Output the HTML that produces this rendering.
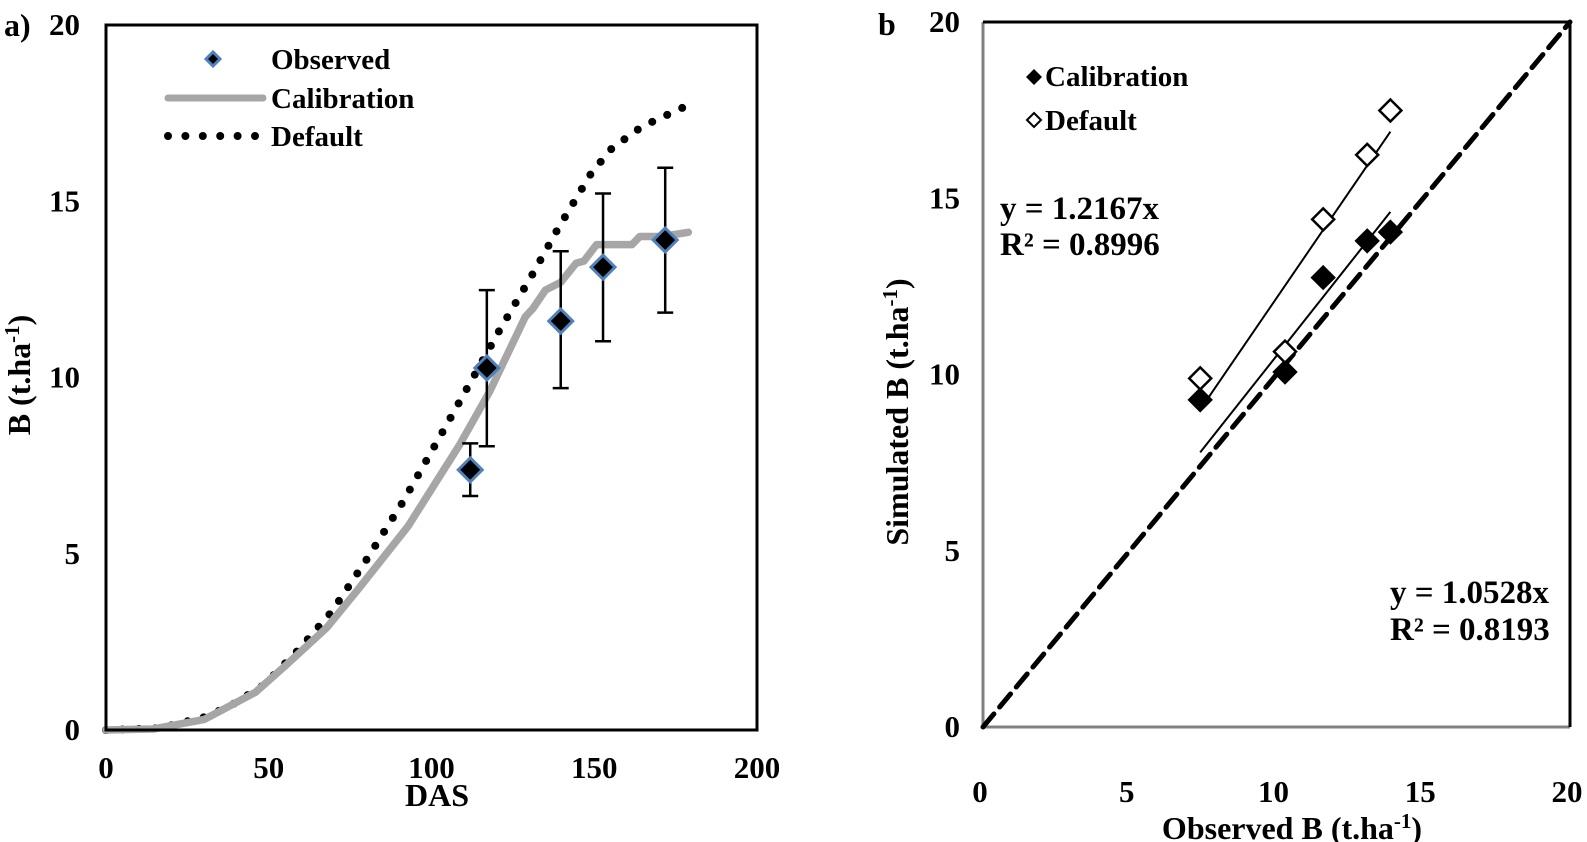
<!DOCTYPE html>
<html><head><meta charset="utf-8"><style>
html,body{margin:0;padding:0;background:#fff}
svg{display:block;font-family:"Liberation Serif",serif;font-weight:bold}
</style></head><body>
<svg id="chart" width="1587" height="842" viewBox="0 0 1587 842" xmlns="http://www.w3.org/2000/svg">
<g id="pa"></g>
<g id="pb"></g>
</svg>
<script>
// Panel a data
const obsDAS = [111.9, 117, 139.7, 152.7, 171.8];
const obsB = [7.38, 10.27, 11.6, 13.13, 13.9];
const obsHi = [8.13, 12.48, 13.58, 15.22, 15.95];
const obsLo = [6.64, 8.05, 9.7, 11.03, 11.84];
const calDAS = [0, 14.6, 30.2, 45.9, 55.2, 67.8, 77.2, 92.8, 108.5, 117.8, 128.8, 131.1, 135, 139.7, 144.4, 146.8, 150.7, 161.6, 164, 170.9, 178.9];
const calB = [0, 0.03, 0.3, 1.07, 1.83, 2.9, 3.96, 5.78, 8.07, 9.59, 11.72, 11.95, 12.48, 12.7, 13.24, 13.3, 13.77, 13.77, 14.0, 14.0, 14.12];
const defDAS = [0, 16.1, 20.8, 31, 39.6, 48.7, 59.2, 69.3, 80.3, 91.2, 103.8, 113.1, 120.9, 131.1, 138.9, 149.1, 155.4, 164.7, 177.3];
const defB = [0, 0.05, 0.15, 0.38, 0.76, 1.29, 2.28, 3.35, 4.87, 6.47, 8.52, 10.05, 11.34, 12.94, 14.23, 15.8, 16.5, 17.12, 17.66];
const aXTicks = [0, 50, 100, 150, 200];
const aYTicks = [0, 5, 10, 15, 20];
// Panel b data
const bObserved = [7.4, 10.29, 11.59, 13.09, 13.88];
const bCalSim = [9.28, 10.07, 12.75, 13.79, 14.04];
const bDefSim = [9.89, 10.65, 14.4, 16.23, 17.49];
const bCalSlope = [1.0528];
const bDefSlope = [1.2167];
const bXTicks = [0, 5, 10, 15, 20];
const bYTicks = [0, 5, 10, 15, 20];

const NS = "http://www.w3.org/2000/svg";
function mk(parent, tag, attrs, text) {
  const e = document.createElementNS(NS, tag);
  for (const k in attrs) e.setAttribute(k, attrs[k]);
  if (text !== undefined) e.textContent = text;
  parent.appendChild(e);
  return e;
}
function diamond(cx, cy, r) { return `M${cx},${cy-r}L${cx+r},${cy}L${cx},${cy+r}L${cx-r},${cy}Z`; }

// ---------- Panel a ----------
const pa = document.getElementById('pa');
const ax = v => 106 + v * (757 - 106) / 200;
const ay = v => 730 - v * (730 - 25) / 20;

let t;
aYTicks.forEach(v => {
  t = mk(pa, 'text', {x: 80, y: ay(v) + 10, 'text-anchor': 'end', 'font-size': 31}, v);
  
  
});
aXTicks.forEach(v => {
  t = mk(pa, 'text', {x: ax(v), y: 778, 'text-anchor': 'middle', 'font-size': 31}, v);
  
  
});
t = mk(pa, 'text', {x: 437, y: 806, 'text-anchor': 'middle', 'font-size': 32}, 'DAS');


t = mk(pa, 'text', {transform: 'translate(30,375) rotate(-90)', 'text-anchor': 'middle', 'font-size': 32});


t.innerHTML = 'B (t.ha<tspan dy="-11" font-size="21">-1</tspan><tspan dy="11">)</tspan>';
t = mk(pa, 'text', {x: 4, y: 36, 'font-size': 32}, 'a)');



// default dotted line
let d = defDAS.map((v, i) => (i ? 'L' : 'M') + ax(v) + ',' + ay(defB[i])).join('');
t = mk(pa, 'path', {d, fill: 'none', stroke: '#000', 'stroke-width': 8, 'stroke-linecap': 'round', 'stroke-dasharray': '0 16.5'});


// calibration line
d = calDAS.map((v, i) => (i ? 'L' : 'M') + ax(v) + ',' + ay(calB[i])).join('');
t = mk(pa, 'path', {d, fill: 'none', stroke: '#a6a6a6', 'stroke-width': 7.5, 'stroke-linejoin': 'round', 'stroke-linecap': 'round'});


// error bars + observed
obsDAS.forEach((v, i) => {
  const x = ax(v);
  t = mk(pa, 'path', {d: `M${x},${ay(obsHi[i])}V${ay(obsLo[i])}M${x-8},${ay(obsHi[i])}H${x+8}M${x-8},${ay(obsLo[i])}H${x+8}`, stroke: '#000', 'stroke-width': 2.5, fill: 'none'});
  
  
});
obsDAS.forEach((v, i) => {
  t = mk(pa, 'path', {d: diamond(ax(v), ay(obsB[i]), 12), fill: '#000', stroke: '#4f81bd', 'stroke-width': 3});
  
  
});
// frame
t = mk(pa, 'rect', {x: 106, y: 25, width: 651, height: 705, fill: 'none', stroke: '#000', 'stroke-width': 3});


// legend
t = mk(pa, 'path', {d: diamond(213, 59, 7), fill: '#000', stroke: '#4f81bd', 'stroke-width': 3});


t = mk(pa, 'text', {x: 271, y: 69, 'font-size': 29}, 'Observed');


t = mk(pa, 'line', {x1: 168, y1: 98, x2: 263, y2: 98, stroke: '#a6a6a6', 'stroke-width': 7, 'stroke-linecap': 'round'});


t = mk(pa, 'text', {x: 271, y: 108, 'font-size': 29}, 'Calibration');


t = mk(pa, 'line', {x1: 168, y1: 136, x2: 255, y2: 136, stroke: '#000', 'stroke-width': 8, 'stroke-linecap': 'round', 'stroke-dasharray': '0 17.4'});


t = mk(pa, 'text', {x: 271, y: 146, 'font-size': 29}, 'Default');



// ---------- Panel b ----------
const pb = document.getElementById('pb');
const bx = v => 983 + v * (1570 - 983) / 20;
const by = v => 727 - v * (727 - 22) / 20;

bYTicks.forEach(v => {
  t = mk(pb, 'text', {x: 960, y: by(v) + 10, 'text-anchor': 'end', 'font-size': 31}, v);
  
  
});
bXTicks.forEach(v => {
  t = mk(pb, 'text', {x: bx(v) - 3, y: 802, 'text-anchor': 'middle', 'font-size': 31}, v);
  
  
});
t = mk(pb, 'text', {x: 1292, y: 839, 'text-anchor': 'middle', 'font-size': 32});


t.innerHTML = 'Observed B (t.ha<tspan dy="-11" font-size="21">-1</tspan><tspan dy="11">)</tspan>';
t = mk(pb, 'text', {transform: 'translate(908,412) rotate(-90)', 'text-anchor': 'middle', 'font-size': 32});


t.innerHTML = 'Simulated B (t.ha<tspan dy="-11" font-size="21">-1</tspan><tspan dy="11">)</tspan>';
t = mk(pb, 'text', {x: 878, y: 35, 'font-size': 32}, 'b');



// frame: left & bottom gray, top & right black
t = mk(pb, 'path', {d: `M983,22V727H1570`, fill: 'none', stroke: '#808080', 'stroke-width': 3});


t = mk(pb, 'path', {d: `M983,22H1570V727`, fill: 'none', stroke: '#000', 'stroke-width': 3});



// 1:1 dashed line
t = mk(pb, 'line', {x1: bx(0), y1: by(0), x2: bx(20), y2: by(20), stroke: '#000', 'stroke-width': 5, 'stroke-dasharray': '17 9', 'stroke-linecap': 'round'});



// trendlines
const xmin = Math.min(...bObserved), xmax = Math.max(...bObserved);
[[bDefSlope[0], 'default-trendline'], [bCalSlope[0], 'calibration-trendline']].forEach(([s, name]) => {
  t = mk(pb, 'line', {x1: bx(xmin), y1: by(s * xmin), x2: bx(xmax), y2: by(s * xmax), stroke: '#000', 'stroke-width': 2});
  
  
});
bObserved.forEach((v, i) => {
  t = mk(pb, 'path', {d: diamond(bx(v), by(bCalSim[i]), 12), fill: '#000', stroke: '#000', 'stroke-width': 1});
  
  
});
bObserved.forEach((v, i) => {
  t = mk(pb, 'path', {d: diamond(bx(v), by(bDefSim[i]), 11), fill: '#fff', stroke: '#000', 'stroke-width': 2.5});
  
  
});
// legend
t = mk(pb, 'path', {d: diamond(1034, 77, 8), fill: '#000'});


t = mk(pb, 'text', {x: 1045, y: 86, 'font-size': 29}, 'Calibration');


t = mk(pb, 'path', {d: diamond(1034, 120, 7), fill: '#fff', stroke: '#000', 'stroke-width': 2});


t = mk(pb, 'text', {x: 1045, y: 130, 'font-size': 29}, 'Default');


// equations
t = mk(pb, 'text', {x: 1000, y: 219, 'font-size': 33}, 'y = 1.2167x');


t = mk(pb, 'text', {x: 1000, y: 255, 'font-size': 33}, 'R² = 0.8996');


t = mk(pb, 'text', {x: 1390, y: 603, 'font-size': 33}, 'y = 1.0528x');


t = mk(pb, 'text', {x: 1390, y: 640, 'font-size': 33}, 'R² = 0.8193');


</script>
</body></html>
